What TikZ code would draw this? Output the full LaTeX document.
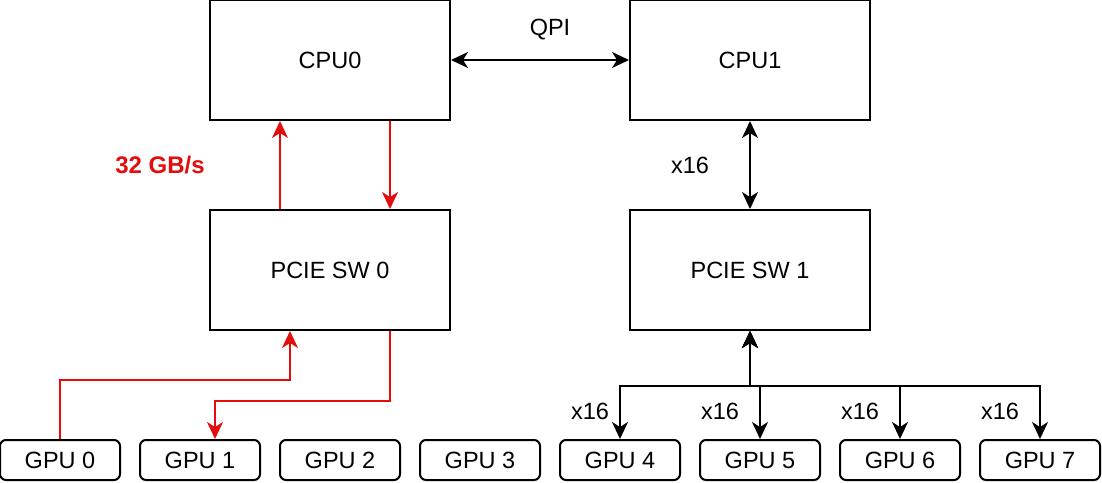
\documentclass[tikz,border=0pt]{standalone}
\usepackage{fontspec}
\setmainfont{Liberation Sans}
\usetikzlibrary{arrows.meta}
\definecolor{linkred}{RGB}{228,12,12}

\begin{document}
\begin{tikzpicture}[x=1pt,y=-1pt,>={Stealth[length=17pt,width=16pt,inset=5pt]},
  font=\fontsize{23.5pt}{27pt}\selectfont,
  bigbox/.style={draw,line width=2pt,minimum width=240pt,minimum height=120pt,inner sep=0pt},
  gpubox/.style={draw,line width=2pt,rounded corners=6pt,minimum width=120pt,minimum height=40pt,inner sep=0pt},
  link/.style={line width=1.8pt},
  redlink/.style={line width=1.8pt,linkred,->}]
 \useasboundingbox (0,0) rectangle (1102,482);
 \node[bigbox] (cpu0) at (330,60) {CPU0};
 \node[bigbox] (cpu1) at (750,60) {CPU1};
 \node[bigbox] (sw0) at (330,270) {PCIE SW 0};
 \node[bigbox] (sw1) at (750,270) {PCIE SW 1};
 \foreach \i in {0,...,7}
   \node[gpubox] (gpu\i) at ({60+140*\i},460) {GPU \i};
 \draw[link,<->] (cpu0) -- (cpu1);
 \node (qpi) at (550,30) {QPI};
 \draw[redlink] ([xshift=-50pt]sw0.north) -- ([xshift=-50pt]cpu0.south);
 \draw[redlink] ([xshift=60pt]cpu0.south) -- ([xshift=60pt]sw0.north);
 \node[linkred,font=\fontsize{24pt}{28pt}\selectfont\bfseries] (bw) at (160,165) {32 GB/s};
 \draw[redlink] (gpu0.north) -- ++(0,-59) -| ([xshift=-40pt]sw0.south);
 \draw[redlink] ([xshift=60pt]sw0.south) -- ++(0,70) -| ([xshift=15pt]gpu1.north);
 \draw[link,<->] (cpu1) -- (sw1);
 \node (lane) at (690,165) {x16};
 \foreach \i/\lx in {4/590,5/720,6/860,7/1000}{
   \draw[link,<->] (sw1.south) -- ++(0,55) -| (gpu\i.north);
   \node (lane\i) at (\lx,411) {x16};
 }
\end{tikzpicture}
\end{document}
